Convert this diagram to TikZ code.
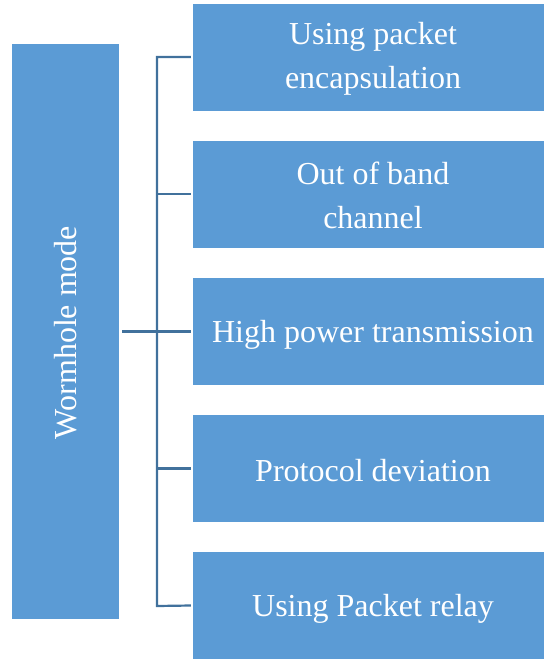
\documentclass[tikz,border=0pt]{standalone}
\usepackage{fontspec}
\setmainfont{Liberation Serif}
\definecolor{boxfill}{HTML}{5B9BD5}
\definecolor{linecol}{HTML}{41719C}
\begin{document}
\begin{tikzpicture}[x=1pt,y=-1pt,
  bx/.style={fill=boxfill,draw=none,inner sep=0pt,minimum width=351pt,minimum height=107pt},
  lbl/.style={text=white,align=center,inner sep=0pt,font=\fontsize{32}{44}\selectfont},
  conn/.style={draw=linecol,line width=2.2pt}]
\useasboundingbox (0,0) rectangle (544,659);
\node[fill=boxfill,inner sep=0pt,minimum width=107pt,minimum height=575pt] (L) at (65.5,331.5) {};
\node[lbl,rotate=90] (Lt) at ([yshift=-1pt]L.center) {Wormhole mode};
\node[bx] (b1) at (368.5,57) {};
\node[bx] (b2) at (368.5,194) {};
\node[bx] (b3) at (368.5,331.5) {};
\node[bx] (b4) at (368.5,468.5) {};
\node[bx] (b5) at (368.5,605.5) {};
\node[lbl] (t1) at ([xshift=4.5pt,yshift=-1.5pt]b1.center) {Using packet\\encapsulation};
\node[lbl] (t2) at ([xshift=4.5pt,yshift=-1.5pt]b2.center) {Out of band\\channel};
\node[lbl] (t3) at ([xshift=4.5pt,yshift=-3pt]b3.center) {High power transmission};
\node[lbl] (t4) at ([xshift=4.5pt,yshift=-2pt]b4.center) {Protocol deviation};
\node[lbl] (t5) at ([xshift=4.5pt,yshift=-3.5pt]b5.center) {Using Packet relay};
\coordinate (J) at (157,331.5);
\coordinate (T) at (157,57);
\coordinate (B) at (157,606);
\draw[conn] ([xshift=3pt]L.east |- J) -- ([xshift=-2pt]b3.west);
\draw[conn] ([xshift=-2pt]b1.west) -- (T) -- (B) -- ([xshift=-2pt]b5.west);
\draw[conn] (J |- b2.west) -- ([xshift=-2pt]b2.west);
\draw[conn] (J |- b4.west) -- ([xshift=-2pt]b4.west);
\end{tikzpicture}
\end{document}
